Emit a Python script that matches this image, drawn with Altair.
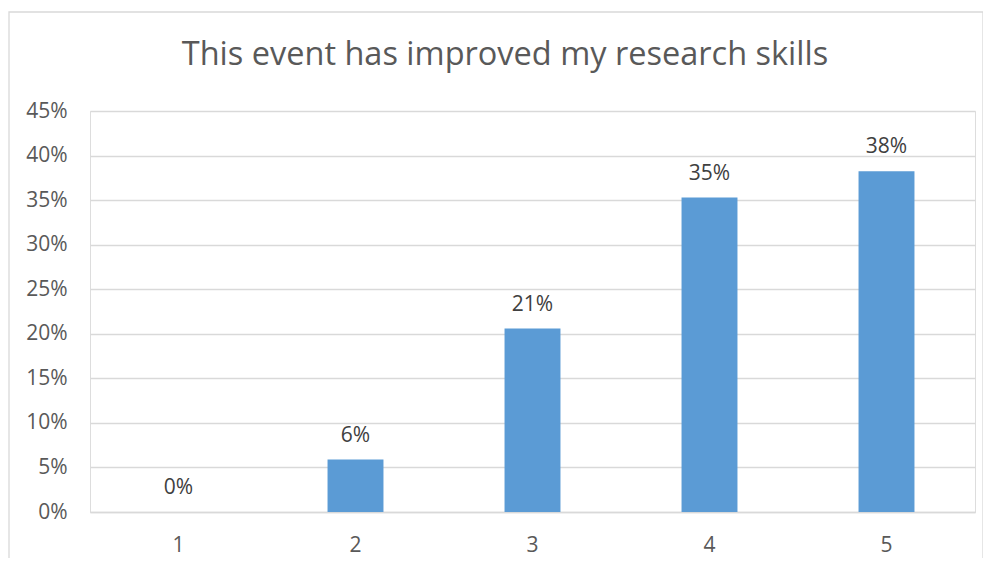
import altair as alt
import pandas as pd

categories = ["1", "2", "3", "4", "5"]
shares = [0.0, 0.0588, 0.2059, 0.3529, 0.3824]
title_text = "This event has improved my research skills"

df = pd.DataFrame({"rating": categories, "share": shares})

FONT = "Open Sans"
GREY = "#595959"

x_enc = alt.X("rating:N", sort=categories, title=None,
              scale=alt.Scale(paddingInner=0.684, paddingOuter=0.342),
              axis=alt.Axis(labelAngle=0, labelFontSize=21, labelColor=GREY, labelFont=FONT,
                            ticks=False, domain=True, domainColor="#D9D9D9", domainWidth=1.3,
                            labelPadding=22, grid=False))
y_enc = alt.Y("share:Q", title=None,
              scale=alt.Scale(domain=[0, 0.45], nice=False),
              axis=alt.Axis(format=".0%", values=[i / 100 for i in range(0, 50, 5)],
                            labelFontSize=21, labelColor=GREY, labelFont=FONT,
                            ticks=False, domain=False, gridColor="#D9D9D9", gridWidth=1.3,
                            labelPadding=23))

base = alt.Chart(df)

bars = base.mark_bar(color="#5B9BD5").encode(x=x_enc, y=y_enc)
labels = base.mark_text(dy=-24, fontSize=21, font=FONT, color="#404040").encode(
    x=alt.X("rating:N", sort=categories), y="share:Q", text=alt.Text("share:Q", format=".0%"))

deco = pd.DataFrame({"t": [title_text]})
border = alt.Chart(deco).mark_rect(
    fill=None, stroke="#D9D9D9", strokeWidth=1.3).encode(
    x=alt.value(-81), x2=alt.value(893), y=alt.value(-99), y2=alt.value(470))
title = alt.Chart(deco).mark_text(
    fontSize=32.5, font=FONT, color=GREY, baseline="middle", align="center").encode(
    x=alt.value(415), y=alt.value(-56), text="t:N")

chart = alt.layer(border, bars, labels, title).properties(
    width=885, height=401,
    padding={"left": 82, "top": 103, "right": 8, "bottom": 46},
    autosize=alt.AutoSizeParams(type="none"),
).configure_view(stroke=None).configure(background="white")

chart.save("out.html", embed_options={"renderer": "svg", "actions": False})
